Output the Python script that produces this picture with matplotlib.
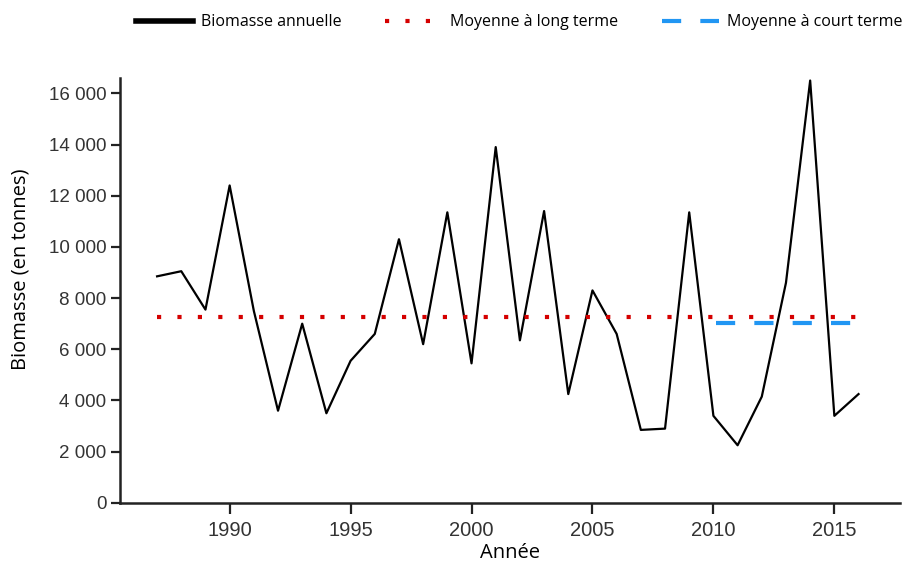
import matplotlib.pyplot as plt
from matplotlib.ticker import FuncFormatter

years = list(range(1987, 2017))
biomasse = [8850, 9050, 7550, 12400, 7500, 3600, 7000, 3500, 5550, 6600,
            10300, 6200, 11350, 5450, 13900, 6350, 11400, 4250, 8300, 6600,
            2850, 2900, 11350, 3400, 2250, 4150, 8600, 16500, 3400, 4250]

long_years = [1987, 2016]
long_mean = [7280, 7280]
short_years = [2010.1, 2016]
short_mean = [7030, 7030]

plt.rcParams['font.family'] = ['Liberation Sans', 'DejaVu Sans']

fig = plt.figure(figsize=(9.06, 5.65), dpi=100)
ax = fig.add_axes([0.132, 0.110, 0.861, 0.752])

ax.plot(years, biomasse, color='black', lw=1.6, label='Biomasse annuelle')
ax.plot(long_years, long_mean, color='#d50000', lw=3, linestyle=(0, (1, 3.9)),
        label='Moyenne à long terme')
ax.plot(short_years, short_mean, color='#2196f3', lw=3, linestyle=(0, (4.6, 4.6)),
        label='Moyenne à court terme')

ax.set_xlim(1985.45, 2017.7)
ax.set_ylim(0, 16600)
ax.set_xticks([1990, 1995, 2000, 2005, 2010, 2015])
ax.set_yticks(range(0, 16001, 2000))
ax.yaxis.set_major_formatter(FuncFormatter(lambda v, p: f'{int(v):,}'.replace(',', ' ')))
ax.tick_params(width=1.6, color='#222222', labelcolor='#333333')
ax.tick_params(axis='x', labelsize=14.5, length=8, pad=5)
ax.tick_params(axis='y', labelsize=13.5, length=6.5, pad=3)

for s in ['top', 'right']:
    ax.spines[s].set_visible(False)
for s in ['left', 'bottom']:
    ax.spines[s].set_linewidth(1.8)
    ax.spines[s].set_color('#222222')

ax.set_ylabel('Biomasse (en tonnes)', fontsize=14.5, family=['Open Sans', 'DejaVu Sans'])
ax.yaxis.set_label_coords(-0.114, 0.55)
ax.set_xlabel('Année', fontsize=14.5, family=['Open Sans', 'DejaVu Sans'], labelpad=2)

leg = fig.legend(loc='upper center', bbox_to_anchor=(0.573, 1.0), ncol=3, frameon=False,
                 handlelength=3.6, columnspacing=2.7, handletextpad=0.5,
                 prop={'family': ['Open Sans', 'DejaVu Sans'], 'size': 11.5})
leg.get_lines()[0].set_linewidth(4)

fig.savefig('out.png', dpi=100)
